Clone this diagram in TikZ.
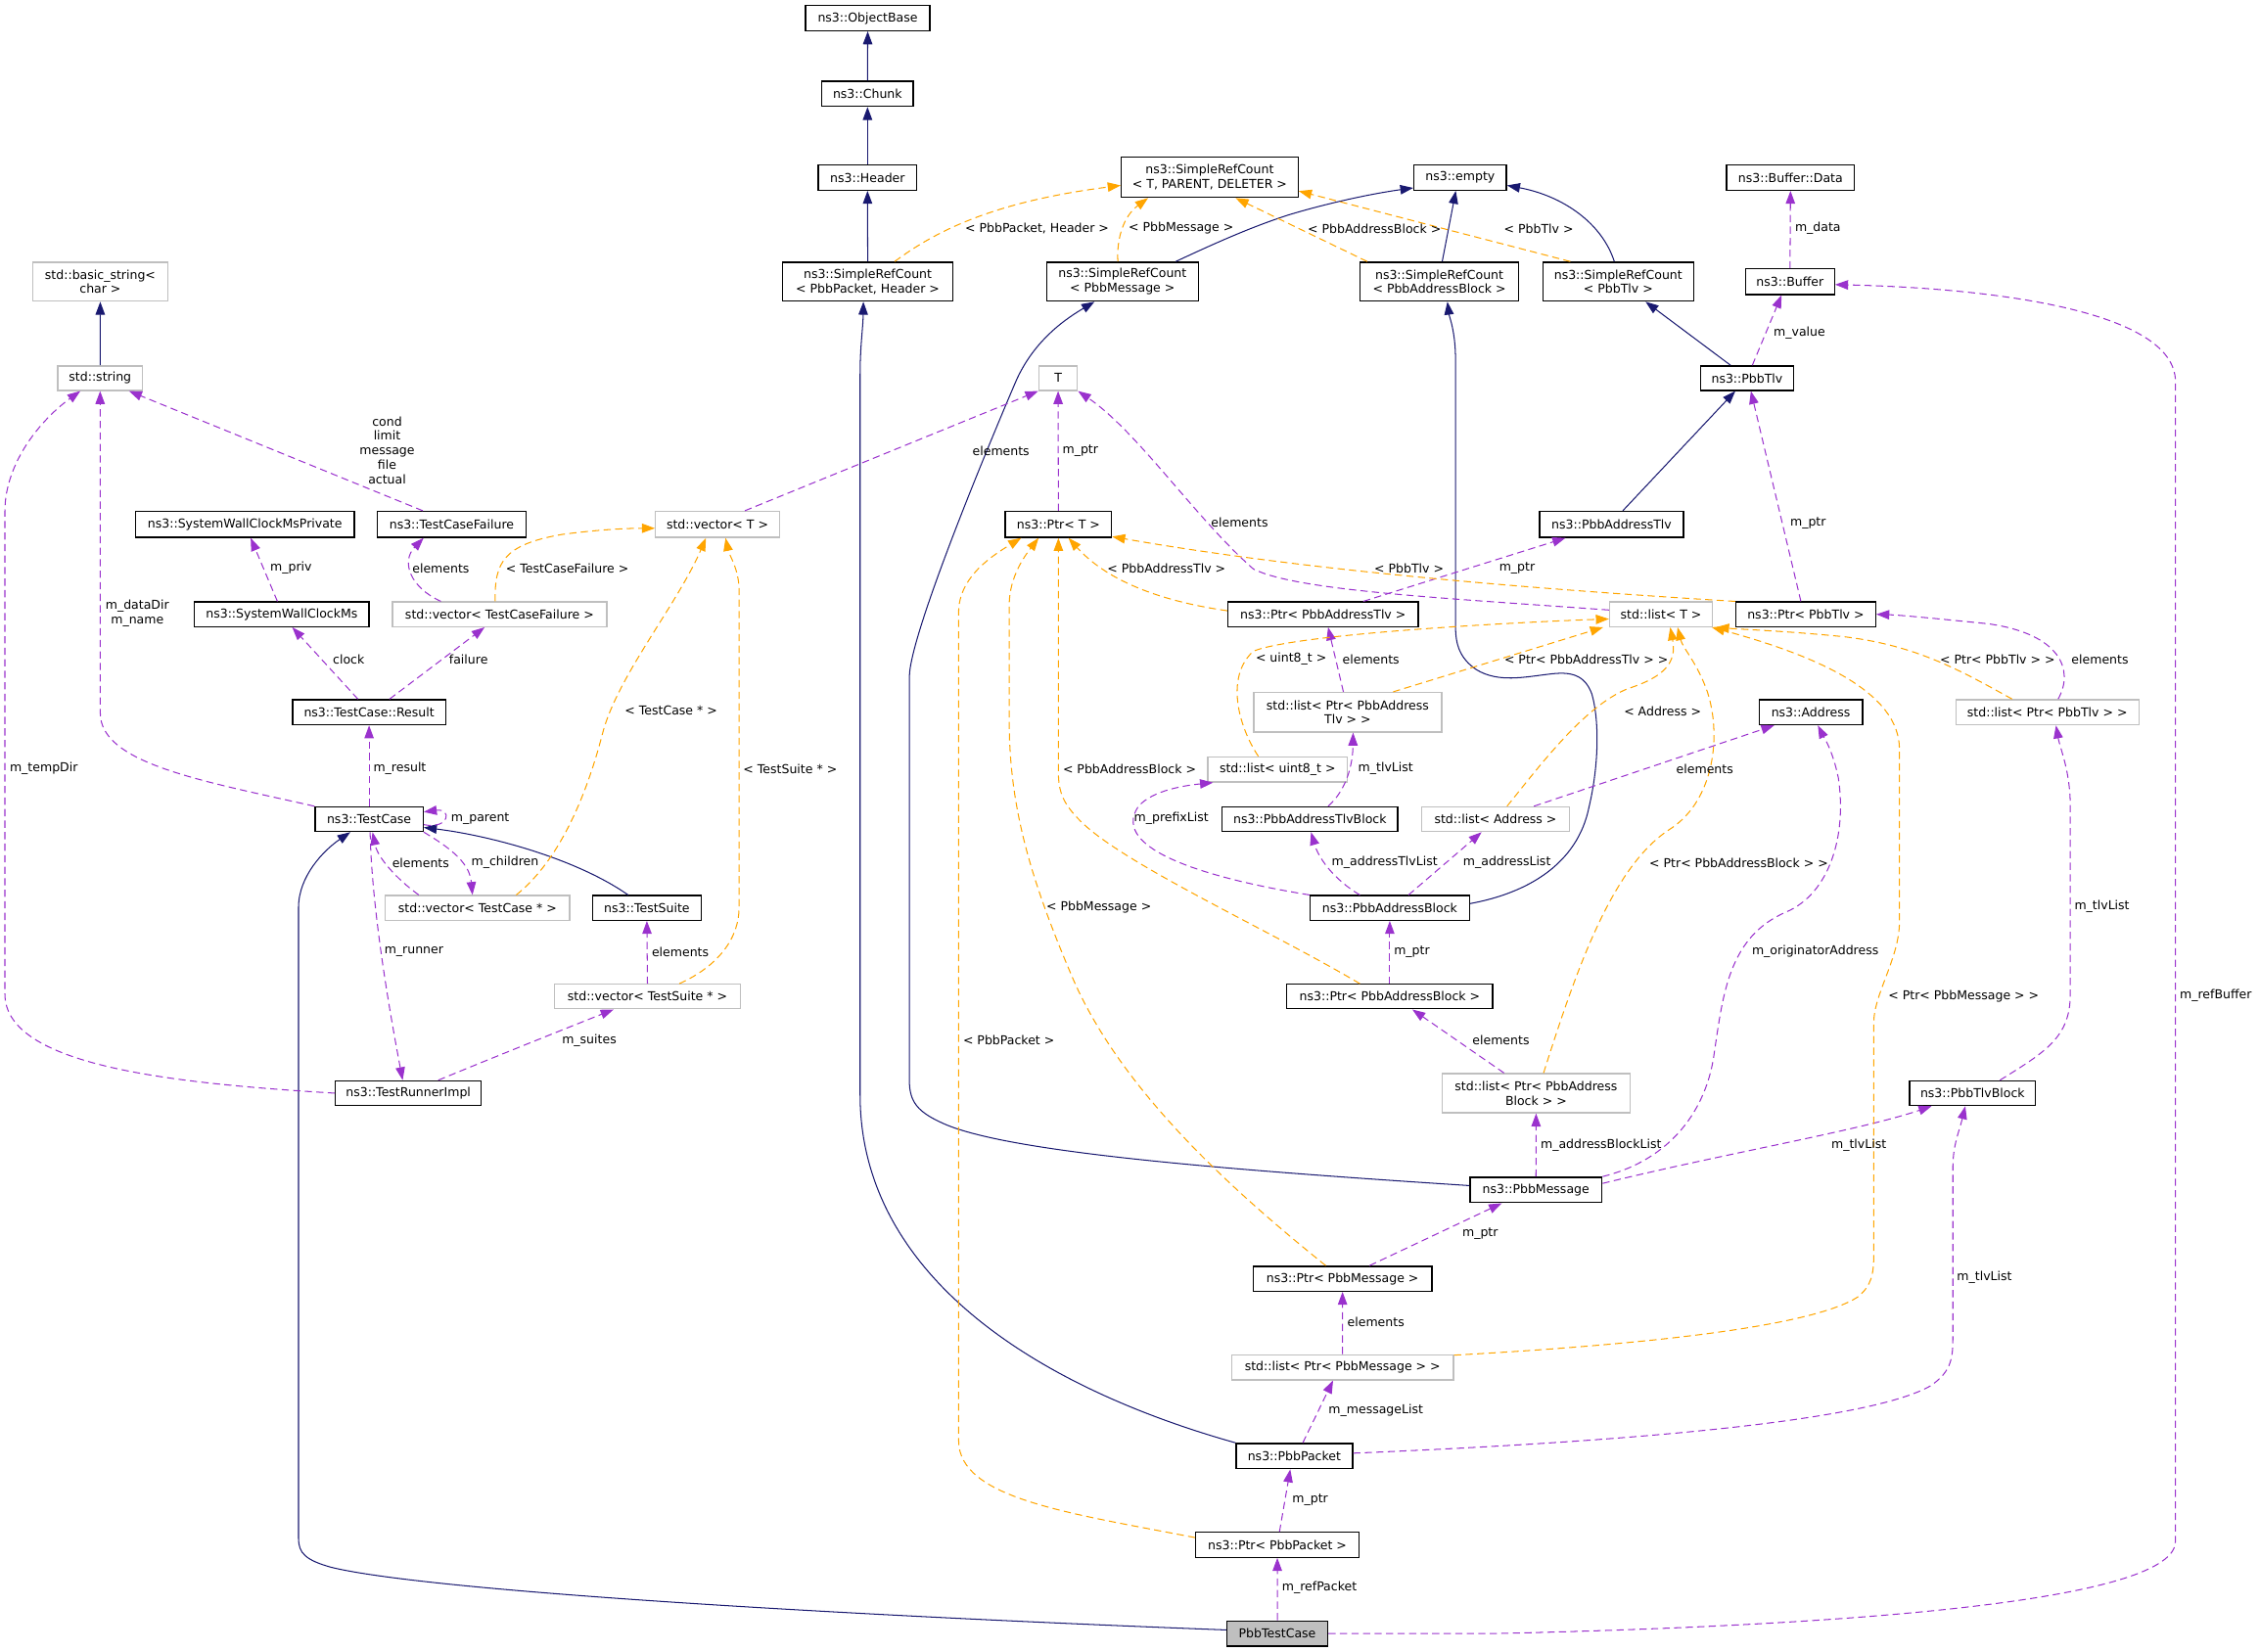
\documentclass[tikz,border=0pt]{standalone}
\usepackage{fontspec}
\setmainfont{DejaVu Sans}
\usetikzlibrary{arrows.meta}
\definecolor{inhc}{HTML}{191970}
\definecolor{usec}{HTML}{9A32CD}
\definecolor{tplc}{HTML}{FFA500}
\definecolor{grayb}{HTML}{BFBFBF}
\newcommand\bx[7]{\node[#1, minimum width={(#5)-(#3)}, minimum height={(#6)-(#4)}] (#2) at ({((#3)+(#5))/2},{((#4)+(#6))/2}) {#7};}
\begin{document}
\begin{tikzpicture}[x=1pt,y=-1pt,font=\fontsize{8.5}{10}\selectfont,
  box/.style={draw=black,line width=0.9pt,fill=white,inner sep=0pt,align=center},
  gbox/.style={draw=grayb,line width=0.9pt,fill=white,inner sep=0pt,align=center},
  mbox/.style={draw=black,line width=0.9pt,fill=grayb,inner sep=0pt,align=center},
  tipA/.style={-{Triangle[length=9pt,width=6.5pt]}},
  inh/.style={draw=inhc,line width=0.7pt,tipA},
  use/.style={draw=usec,line width=0.7pt,dash pattern=on 5pt off 3pt,tipA},
  tpl/.style={draw=tplc,line width=0.7pt,dash pattern=on 5pt off 3pt,tipA},
  lbl/.style={inner sep=0pt,align=center}]
\useasboundingbox (0,0) rectangle (1568,1146.7);
% ---------------- nodes
\bx{box}{objbase}{559.2}{3.9}{645.4}{21.3}{ns3::ObjectBase}
\bx{box}{chunk}{570.4}{56.4}{633.9}{73.8}{ns3::Chunk}
\bx{box}{header}{568}{114.4}{636.3}{132}{ns3::Header}
\bx{box}{srcT}{778.3}{109}{901}{137}{ns3::SimpleRefCount\\< T, PARENT, DELETER >}
\bx{box}{empty}{981.4}{114.4}{1045.6}{132}{ns3::empty}
\bx{box}{bufdata}{1198.5}{114.4}{1287.1}{132}{ns3::Buffer::Data}
\bx{box}{srcPkt}{543.3}{182}{661.3}{209}{ns3::SimpleRefCount\\< PbbPacket, Header >}
\bx{box}{srcMsg}{726.5}{182}{831.7}{209}{ns3::SimpleRefCount\\< PbbMessage >}
\bx{box}{srcAB}{943.9}{182}{1054.2}{209}{ns3::SimpleRefCount\\< PbbAddressBlock >}
\bx{box}{srcTlv}{1070.8}{182}{1175.6}{209}{ns3::SimpleRefCount\\< PbbTlv >}
\bx{box}{buffer}{1211.6}{186.7}{1273.3}{204.4}{ns3::Buffer}
\bx{gbox}{basicstr}{22.6}{182}{116.6}{209}{std::basic\_string<\\char >}
\bx{gbox}{stdstring}{40}{254}{99}{271}{std::string}
\bx{gbox}{T}{721.1}{254}{747.8}{271}{T}
\bx{box}{pbbtlv}{1180.3}{254}{1245}{271}{ns3::PbbTlv}
\bx{box}{swcmp}{94}{355}{246}{373}{ns3::SystemWallClockMsPrivate}
\bx{box}{tcf}{262}{355}{365}{373}{ns3::TestCaseFailure}
\bx{gbox}{vecT}{455}{355}{541}{373}{std::vector< T >}
\bx{box}{ptrT}{697.8}{355}{771.5}{373}{ns3::Ptr< T >}
\bx{box}{pbbatlv}{1068.7}{355}{1168.5}{373}{ns3::PbbAddressTlv}
\bx{box}{swcm}{134.9}{417.9}{256.2}{435}{ns3::SystemWallClockMs}
\bx{gbox}{vecTCF}{272.4}{417.9}{421.1}{435}{std::vector< TestCaseFailure >}
\bx{box}{ptrATlv}{852.3}{417.9}{984.4}{435}{ns3::Ptr< PbbAddressTlv >}
\bx{gbox}{listT}{1117.2}{417.9}{1188.7}{435}{std::list< T >}
\bx{box}{ptrTlv}{1204.9}{417.9}{1301.9}{435}{ns3::Ptr< PbbTlv >}
\bx{box}{result}{203.1}{485.7}{309.3}{503.1}{ns3::TestCase::Result}
\bx{gbox}{listPATlv}{870.2}{480.7}{1000.7}{508.1}{std::list< Ptr< PbbAddress\\Tlv > >}
\bx{box}{address}{1221}{485.7}{1292.8}{503.1}{ns3::Address}
\bx{gbox}{listPTlv}{1357.5}{485.7}{1484.6}{503.1}{std::list< Ptr< PbbTlv > >}
\bx{gbox}{listU8}{838.4}{525.4}{935.1}{542.8}{std::list< uint8\_t >}
\bx{box}{testcase}{218.7}{560.1}{293.7}{577.2}{ns3::TestCase}
\bx{box}{atlvblock}{848.2}{560.1}{970.2}{577.2}{ns3::PbbAddressTlvBlock}
\bx{gbox}{listAddr}{986.8}{560.1}{1089.3}{577.2}{std::list< Address >}
\bx{gbox}{vecTC}{267.4}{621.7}{395.5}{638.8}{std::vector< TestCase * >}
\bx{box}{testsuite}{411.3}{621.7}{486.7}{638.8}{ns3::TestSuite}
\bx{box}{addrblock}{909.4}{621.7}{1019.9}{638.8}{ns3::PbbAddressBlock}
\bx{gbox}{vecTS}{385}{683.3}{513.8}{700.3}{std::vector< TestSuite * >}
\bx{box}{ptrAB}{893.2}{683.3}{1036.1}{700.3}{ns3::Ptr< PbbAddressBlock >}
\bx{box}{runner}{232.9}{750.3}{333.9}{767.4}{ns3::TestRunnerImpl}
\bx{gbox}{listPAB}{1001}{745.3}{1131.4}{772.5}{std::list< Ptr< PbbAddress\\Block > >}
\bx{box}{tlvblock}{1325.5}{750.3}{1412.8}{767.4}{ns3::PbbTlvBlock}
\bx{box}{message}{1020.3}{817.2}{1111.9}{834.8}{ns3::PbbMessage}
\bx{box}{ptrMsg}{869.8}{879}{993.9}{896.3}{ns3::Ptr< PbbMessage >}
\bx{gbox}{listPMsg}{855}{940.4}{1008.8}{957.8}{std::list< Ptr< PbbMessage > >}
\bx{box}{packet}{858}{1002}{938.8}{1019.5}{ns3::PbbPacket}
\bx{box}{ptrPkt}{830}{1063.7}{943.2}{1081}{ns3::Ptr< PbbPacket >}
\bx{mbox}{main}{851.6}{1125.2}{921.6}{1142.7}{PbbTestCase}
% ---------------- inheritance
\draw[inh] (chunk.north) -- (objbase.south);
\draw[inh] (header.north) -- (chunk.south);
\draw[inh] (srcPkt.north) -- (header.south);
\draw[inh] ([xshift=37pt]srcMsg.north) .. controls (845,168) and (870,157) .. (895,149) .. controls (925,140) and (955,134) .. ([yshift=2pt]empty.south west);
\draw[inh] ([xshift=2pt]srcAB.north) -- ([xshift=-3pt]empty.south);
\draw[inh] ([xshift=-2.7pt]srcTlv.north) .. controls (1112,155) and (1085,136) .. ([yshift=-5.5pt]empty.east);
\draw[inh] ([xshift=-11.45pt]pbbtlv.north) -- ([xshift=19pt]srcTlv.south);
\draw[inh] ([xshift=7.8pt]pbbatlv.north) -- ([xshift=-8.15pt]pbbtlv.south);
\draw[inh] (stdstring.north) -- (basicstr.south);
\draw[inh] ([xshift=-13pt]testsuite.north) .. controls (400,596) and (340,580) .. ([yshift=-5.75pt]testcase.east);
\draw[inh] ([yshift=2.5pt]main.west) .. controls (600,1122) and (300,1105) .. (230,1088) .. controls (212,1083) and (207.2,1078) .. (207.2,1068) -- (207.2,630) .. controls (207.2,608) and (225,590) .. ([xshift=-13pt]testcase.south);
\draw[inh] (packet.north west) .. controls (710,960) and (597,880) .. (597,760) -- (597,260) .. controls (597,240) and (599,228) .. ([xshift=-3pt]srcPkt.south);
\draw[inh] ([yshift=3pt]message.west) .. controls (850,812) and (700,800) .. (655,780) .. controls (637,772) and (631.2,765) .. (631.2,750) -- (631.2,470) .. controls (631.2,440) and (690,300) .. (705,265) .. controls (718,235) and (742,220) .. ([xshift=-19.4pt]srcMsg.south);
\draw[inh] ([yshift=3pt]addrblock.east) .. controls (1060,620) and (1095,600) .. (1103,560) .. controls (1110,530) and (1110,500) .. (1105,482) .. controls (1100,468) and (1090,466) .. (1075,468) .. controls (1058,470) and (1040,474) .. (1025,465) .. controls (1013,457) and (1010.3,447) .. (1010.3,435) -- (1010.3,250) .. controls (1010.3,230) and (1006,220) .. ([xshift=5.6pt]srcAB.south);
% ---------------- usage
\draw[use] ([xshift=-20pt]tcf.north) -- ([xshift=20pt]stdstring.south);
\draw[use] (testcase.north west) .. controls (140,542) and (69.6,530) .. (69.6,495) -- (stdstring.south);
\draw[use] (runner.west) .. controls (120,752) and (3.4,740) .. (3.4,690) -- (3.4,355) .. controls (3.4,320) and (30,290) .. ([xshift=-13.7pt]stdstring.south);
\draw[use] ([xshift=-3pt]swcm.north) -- ([xshift=4pt]swcmp.south);
\draw[use] ([xshift=-40.7pt]vecTCF.north) .. controls (285,408) and (278,390) .. ([xshift=-19.5pt]tcf.south);
\draw[use] ([xshift=-7.8pt]result.north) -- ([xshift=7.3pt]swcm.south);
\draw[use] ([xshift=14.2pt]result.north) -- ([xshift=-10.4pt]vecTCF.south);
\draw[use] (testcase.north) -- (result.south);
\draw[use] ([yshift=-3.8pt]testcase.east) .. controls (312,576) and (314,561) .. ([yshift=5pt]testcase.east);
\draw[use] (testcase.south east) .. controls (315,590) and (326,600) .. ([xshift=-3.5pt]vecTC.north);
\draw[use] ([xshift=-40.75pt]vecTC.north) .. controls (275,610) and (262,595) .. ([xshift=2.4pt]testcase.south);
\draw[use] ([xshift=0.7pt]testcase.south) .. controls (258,630) and (270,700) .. ([xshift=-3.9pt]runner.north);
\draw[use] (vecTS.north) -- (testsuite.south);
\draw[use] ([xshift=20.8pt]runner.north) .. controls (340,735) and (390,715) .. ([xshift=-23.5pt]vecTS.south);
\draw[use] ([xshift=19pt]vecT.north) -- (T.south west);
\draw[use] (ptrT.north) -- (T.south);
\draw[use] ([yshift=3pt]listT.west) .. controls (1000,415) and (900,410) .. (870,395) .. controls (830,360) and (790,300) .. (T.south east);
\draw[use] ([xshift=27.9pt]ptrATlv.north) -- ([xshift=-32pt]pbbatlv.south);
\draw[use] ([xshift=-3.4pt]ptrTlv.north) -- ([xshift=2.65pt]pbbtlv.south);
\draw[use] (buffer.north) -- (bufdata.south);
\draw[use] ([xshift=3.65pt]pbbtlv.north) -- ([xshift=-5.85pt]buffer.south);
\draw[use] (main.east) -- (1040,1133.9) .. controls (1300,1128) and (1510,1110) .. (1510,1070) -- (1510,265) .. controls (1510,215) and (1380,200) .. ([yshift=-2pt]buffer.east);
\draw[use] ([xshift=-3pt]listPATlv.north) -- ([xshift=3.5pt]ptrATlv.south);
\draw[use] ([xshift=12.7pt]atlvblock.north) .. controls (935,548) and (939,530) .. ([xshift=3.75pt]listPATlv.south);
\draw[use] (addrblock.north west) .. controls (840,610) and (770,590) .. (790,560) .. controls (800,548) and (825,545) .. ([xshift=4pt]listU8.south west);
\draw[use] ([xshift=-20.75pt]addrblock.north) .. controls (925,610) and (915,595) .. ([xshift=0.8pt]atlvblock.south);
\draw[use] ([xshift=13pt]addrblock.north) -- ([xshift=-9.65pt]listAddr.south);
\draw[use] ([xshift=26.65pt]listAddr.north) -- ([xshift=-25.4pt]address.south);
\draw[use] (ptrAB.north) -- (addrblock.south);
\draw[use] ([xshift=-22.2pt]listPAB.north) -- ([xshift=15.65pt]ptrAB.south);
\draw[use] (message.north) -- (listPAB.south);
\draw[use] (message.north east) .. controls (1160,805) and (1185,770) .. (1190,730) .. controls (1196,690) and (1200,650) .. (1240,633) .. controls (1270,620) and (1282,580) .. (1276,540) .. controls (1272,520) and (1265,510) .. ([xshift=4.9pt]address.south);
\draw[use] ([yshift=4.5pt]message.east) .. controls (1200,800) and (1290,785) .. ([xshift=15.7pt]tlvblock.south west);
\draw[use] ([xshift=7.5pt]listPTlv.north) .. controls (1440,465) and (1430,440) .. (1380,433) .. controls (1350,430) and (1320,427) .. (ptrTlv.east);
\draw[use] ([xshift=19pt]tlvblock.north) .. controls (1420,730) and (1437,720) .. (1437,690) -- (1437,560) .. controls (1437,535) and (1430,520) .. ([xshift=6pt]listPTlv.south);
\draw[use] ([xshift=18.75pt]ptrMsg.north) -- ([xshift=-23.7pt]message.south);
\draw[use] (listPMsg.north) -- (ptrMsg.south);
\draw[use] ([xshift=5.9pt]packet.north) -- ([xshift=-6.6pt]listPMsg.south);
\draw[use] ([yshift=2pt]packet.east) .. controls (1150,1000) and (1300,985) .. (1340,962) .. controls (1353,953) and (1355.5,945) .. (1355.5,930) -- (1355.5,810) .. controls (1355.5,795) and (1360,785) .. ([xshift=-5pt]tlvblock.south);
\draw[use] ([xshift=1.5pt]ptrPkt.north) -- ([xshift=-2.8pt]packet.south);
\draw[use] (main.north) -- (ptrPkt.south);
% ---------------- template instances
\draw[tpl] ([xshift=18.7pt]srcPkt.north) .. controls (650,160) and (690,140) .. ([yshift=-5.7pt]srcT.west);
\draw[tpl] ([xshift=-3.2pt]srcMsg.north) .. controls (775,165) and (780,150) .. ([xshift=-42.75pt]srcT.south);
\draw[tpl] ([xshift=-50pt]srcAB.north) -- ([xshift=18pt]srcT.south);
\draw[tpl] ([xshift=-33.2pt]srcTlv.north) -- ([yshift=-9.6pt]srcT.east);
\draw[tpl] ([xshift=-3pt]vecTCF.north) .. controls (343,390) and (350,378) .. (390,371) .. controls (420,367) and (440,366.7) .. ([yshift=-2.7pt]vecT.west);
\draw[tpl] ([xshift=26.85pt]vecTC.north) .. controls (385,600) and (405,560) .. (418,510) .. controls (428,470) and (470,420) .. ([xshift=-8pt]vecT.south);
\draw[tpl] ([xshift=22.1pt]vecTS.north) .. controls (500,670) and (513,650) .. (513,630) -- (513,410) .. controls (513,395) and (506,385) .. ([xshift=5.6pt]vecT.south);
\draw[tpl] ([yshift=2.5pt]ptrATlv.west) .. controls (810,418) and (770,405) .. ([xshift=7pt]ptrT.south);
\draw[tpl] (ptrTlv.north west) .. controls (1050,408) and (900,395) .. ([yshift=-8.5pt]ptrT.east);
\draw[tpl] ([xshift=-20.75pt]ptrAB.north) .. controls (880,645) and (780,600) .. (750,570) .. controls (738,558) and (734.6,550) .. (734.6,535) -- (ptrT.south);
\draw[tpl] ([xshift=-11.65pt]ptrMsg.north) .. controls (860,830) and (780,760) .. (745,680) .. controls (715,610) and (700.5,560) .. (700.5,500) -- (700.5,420) .. controls (700.5,400) and (712,385) .. ([xshift=-13.75pt]ptrT.south);
\draw[tpl] ([yshift=5pt]ptrPkt.west) .. controls (740,1050) and (665.4,1040) .. (665.4,1000) -- (665.4,425) .. controls (665.4,400) and (690,385) .. ([xshift=-25.85pt]ptrT.south);
\draw[tpl] ([xshift=-13.35pt]listU8.north) .. controls (860,505) and (850,470) .. (870,452) .. controls (900,440) and (1050,432) .. ([yshift=-3.2pt]listT.west);
\draw[tpl] ([xshift=31.55pt]listPATlv.north) -- ([xshift=-4pt]listT.south west);
\draw[tpl] ([xshift=8pt]listAddr.north) .. controls (1070,530) and (1100,490) .. (1130,478) .. controls (1155,470) and (1164,460) .. ([xshift=6.35pt]listT.south);
\draw[tpl] ([xshift=5.2pt]listPAB.north) .. controls (1095,670) and (1120,600) .. (1160,575) .. controls (1190,555) and (1195,510) .. (1185,480) .. controls (1178,460) and (1168,450) .. ([xshift=11.5pt]listT.south);
\draw[tpl] ([xshift=-24.45pt]listPTlv.north) .. controls (1360,465) and (1330,448) .. (1280,442) .. controls (1240,438) and (1210,437) .. ([xshift=2pt]listT.south east);
\draw[tpl] ([yshift=8.4pt]listPMsg.east) .. controls (1150,933) and (1260,920) .. (1290,900) .. controls (1299,892) and (1300.6,885) .. (1300.6,870) -- (1300.6,710) .. controls (1300.6,690) and (1318.4,665) .. (1318.4,640) -- (1318.4,520) .. controls (1318.4,480) and (1260,455) .. ([xshift=-1pt]listT.south east);
% ---------------- labels
\node[lbl] (l01) at (268.7,312.5) {cond\\limit\\message\\file\\actual};
\node[lbl] (l02) at (202,394.4) {m\_priv};
\node[lbl] (l03) at (306,394.4) {elements};
\node[lbl] (l04) at (393.8,394.4) {< TestCaseFailure >};
\node[lbl] (l05) at (95.3,426) {m\_dataDir\\m\_name};
\node[lbl] (l06) at (242,457.6) {clock};
\node[lbl] (l07) at (325.2,457.6) {failure};
\node[lbl] (l08) at (465.8,493.5) {< TestCase * >};
\node[lbl] (l09) at (30.4,533.7) {m\_tempDir};
\node[lbl] (l10) at (277.5,533.7) {m\_result};
\node[lbl] (l11) at (548.5,533.7) {< TestSuite * >};
\node[lbl] (l12) at (333.3,568.4) {m\_parent};
\node[lbl] (l13) at (292,598.8) {elements};
\node[lbl] (l14) at (350.5,598.8) {m\_children};
\node[lbl] (l15) at (287.3,660.6) {m\_runner};
\node[lbl] (l16) at (472.2,660.6) {elements};
\node[lbl] (l17) at (409,722) {m\_suites};
\node[lbl] (l18) at (719.8,158.6) {< PbbPacket, Header >};
\node[lbl] (l19) at (819.8,158.6) {< PbbMessage >};
\node[lbl] (l20) at (954,158.6) {< PbbAddressBlock >};
\node[lbl] (l21) at (1068,158.6) {< PbbTlv >};
\node[lbl] (l22) at (1261.8,158.6) {m\_data};
\node[lbl] (l23) at (1249,231.4) {m\_value};
\node[lbl] (l24) at (694.8,313) {elements};
\node[lbl] (l25) at (749.9,313) {m\_ptr};
\node[lbl] (l26) at (860.4,363) {elements};
\node[lbl] (l27) at (1255,363) {m\_ptr};
\node[lbl] (l28) at (809.7,394.4) {< PbbAddressTlv >};
\node[lbl] (l29) at (978,394.4) {< PbbTlv >};
\node[lbl] (l30) at (1053,394.5) {m\_ptr};
\node[lbl] (l31) at (896.2,457.6) {< uint8\_t >};
\node[lbl] (l32) at (951.6,457.6) {elements};
\node[lbl] (l33) at (1101,457.6) {< Ptr< PbbAddressTlv > >};
\node[lbl] (l34) at (1386.5,457.6) {< Ptr< PbbTlv > >};
\node[lbl] (l35) at (1457.6,457.6) {elements};
\node[lbl] (l36) at (1154,493.5) {< Address >};
\node[lbl] (l37) at (784,533.7) {< PbbAddressBlock >};
\node[lbl] (l38) at (961.8,533.7) {m\_tlvList};
\node[lbl] (l39) at (1183.3,533.7) {elements};
\node[lbl] (l40) at (813,568.4) {m\_prefixList};
\node[lbl] (l41) at (961.1,598.8) {m\_addressTlvList};
\node[lbl] (l42) at (1046,598.8) {m\_addressList};
\node[lbl] (l43) at (1206.9,598.8) {< Ptr< PbbAddressBlock > >};
\node[lbl] (l44) at (762.7,629.5) {< PbbMessage >};
\node[lbl] (l45) at (980,660.6) {m\_ptr};
\node[lbl] (l46) at (1260,660.6) {m\_originatorAddress};
\node[lbl] (l47) at (1459,629.5) {m\_tlvList};
\node[lbl] (l48) at (1363,691.3) {< Ptr< PbbMessage > >};
\node[lbl] (l49) at (1538,691.3) {m\_refBuffer};
\node[lbl] (l50) at (700.2,722) {< PbbPacket >};
\node[lbl] (l51) at (1041.8,721.9) {elements};
\node[lbl] (l52) at (1111.3,794.8) {m\_addressBlockList};
\node[lbl] (l53) at (1290.2,794.8) {m\_tlvList};
\node[lbl] (l54) at (1027.4,856.6) {m\_ptr};
\node[lbl] (l55) at (1377.4,887) {m\_tlvList};
\node[lbl] (l56) at (955,917.6) {elements};
\node[lbl] (l57) at (955,979.4) {m\_messageList};
\node[lbl] (l58) at (909.4,1041.3) {m\_ptr};
\node[lbl] (l59) at (915.8,1102.4) {m\_refPacket};
\end{tikzpicture}
\end{document}
